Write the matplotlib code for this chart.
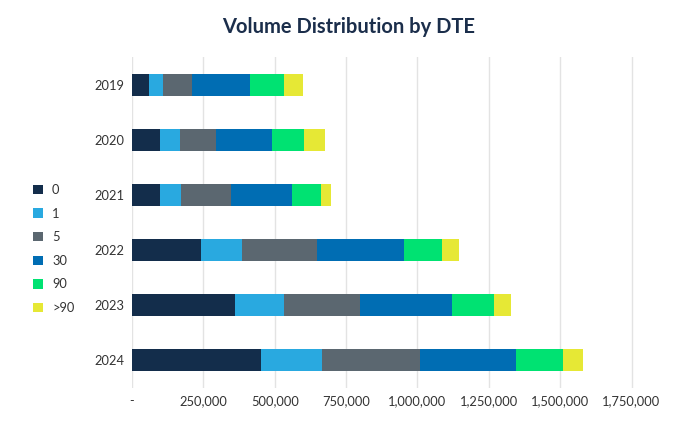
import matplotlib
matplotlib.use("Agg")
import matplotlib.pyplot as plt
from matplotlib.patches import Patch
from matplotlib.ticker import FuncFormatter
import numpy as np

plt.rcParams["font.family"] = ["Lato", "DejaVu Sans"]

# data
years = ["2019", "2020", "2021", "2022", "2023", "2024"]
dte_labels = ["0", "1", "5", "30", "90", ">90"]
dte_0 = [60700, 99300, 99300, 240700, 359900, 452100]
dte_1 = [46800, 68900, 72400, 144900, 171700, 213900]
dte_5 = [102800, 125100, 176400, 262800, 266400, 343400]
dte_30 = [202100, 198600, 213900, 305000, 323600, 334100]
dte_90 = [119200, 111000, 99300, 133200, 147200, 164700]
dte_over90 = [66600, 73600, 36200, 58400, 59600, 72600]
xticks = [0, 250000, 500000, 750000, 1000000, 1250000, 1500000, 1750000]

colors = ["#132d4b", "#29a9e0", "#5b6770", "#006db3", "#00e272", "#e6e835"]
series = [dte_0, dte_1, dte_5, dte_30, dte_90, dte_over90]

fig = plt.figure(figsize=(6.77, 4.22), dpi=100)
ax = fig.add_axes([0.195, 0.081, 0.78, 0.784])

y = np.arange(len(years))
left = np.zeros(len(years))
for vals, col in zip(series, colors):
    ax.barh(y, vals, left=left, height=0.4, color=col, zorder=3)
    left += np.array(vals)

ax.set_ylim(len(years) - 0.5, -0.5)
ax.set_yticks(y)
ax.set_yticklabels(years)
ax.set_xlim(0, 1850000)
ax.set_xticks(xticks)
ax.xaxis.set_major_formatter(FuncFormatter(lambda v, p: "-" if v == 0 else f"{int(v):,}"))
ax.grid(axis="x", color="#e3e3e3", linewidth=1, zorder=0)
ax.tick_params(length=0, labelsize=9.3, colors="#333333")
ax.tick_params(axis="x", pad=5)
ax.tick_params(axis="y", pad=5.5)
for s in ax.spines.values():
    s.set_visible(False)

fig.text(0.515, 0.935, "Volume Distribution by DTE", ha="center", va="center",
         fontsize=14.5, fontweight="bold", color="#1b2e4b")

handles = [Patch(facecolor=c, edgecolor="none") for c in colors]
fig.legend(handles, dte_labels, loc="center left", bbox_to_anchor=(0.032, 0.41),
           frameon=False, fontsize=9.3, handlelength=0.75, handleheight=0.75,
           handletextpad=0.7, labelspacing=0.9, labelcolor="#333333")

fig.savefig("out.png", dpi=100)
